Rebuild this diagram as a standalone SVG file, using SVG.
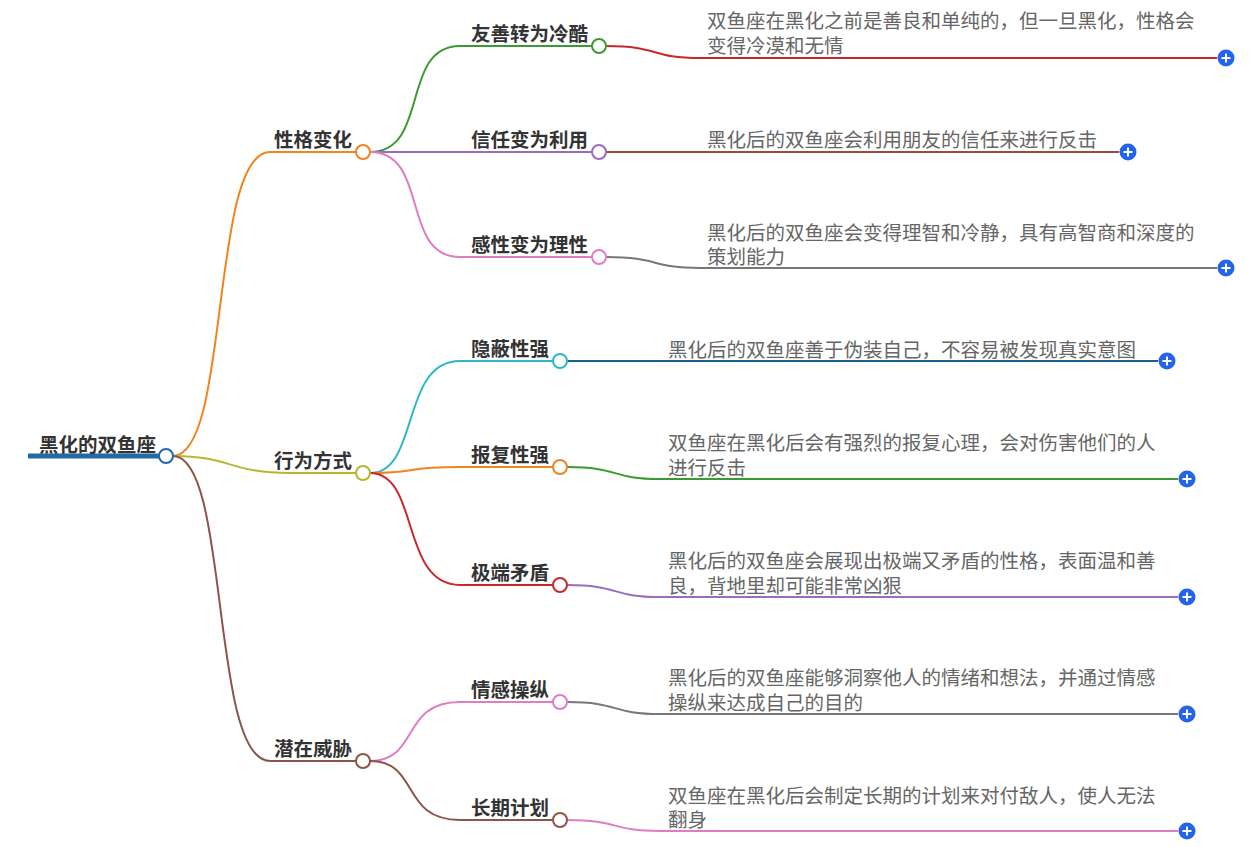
<svg xmlns="http://www.w3.org/2000/svg" width="1255" height="847" viewBox="0 0 1255 847">
<style>
.t{font-family:"Noto Sans CJK SC",sans-serif;font-size:19.5px;font-weight:bold;fill:#333}
.l{font-family:"Noto Sans CJK SC",sans-serif;font-size:19.5px;fill:#666}
path{fill:none;stroke-width:2}
circle.n{fill:#fff;stroke-width:2}
.p{fill:#2463eb}
.pl{stroke:#fff;stroke-width:2}
</style>
<defs><g id="plus"><circle class="p" r="8.5"/><path class="pl" d="M-4.5 0H4.5M0 -4.5V4.5"/></g></defs>
<g id="connectors">
<path d="M28 456H159" stroke="#2369a5" style="stroke-width:5"/>
<path d="M173 456C230 456 210 152 270 152H356" stroke="#f0851f"/>
<path d="M173 456C230 456 230 473 290 473H356" stroke="#b5b82e"/>
<path d="M173 456C230 456 210 761 270 761H356" stroke="#8b5647"/>
<path d="M370 152C430 152 400 46 460 46H592" stroke="#3a9b32"/>
<path d="M370 152H592" stroke="#9a6cc0"/>
<path d="M370 152C430 152 400 257 460 257H592" stroke="#e07cc4"/>
<path d="M370 473C420 473 400 361 460 361H553" stroke="#2bb8c8"/>
<path d="M370 473C420 473 400 467 460 467H553" stroke="#f0851f"/>
<path d="M370 473C420 473 400 585 460 585H553" stroke="#c8282a"/>
<path d="M370 761C420 761 400 702 460 702H553" stroke="#e07cc4"/>
<path d="M370 761C420 761 400 820 460 820H553" stroke="#8b5647"/>
<path d="M606 46C660 46 650 58 700 58H1217" stroke="#c8282a"/>
<path d="M606 152C660 152 650 152 700 152H1119" stroke="#a04a3a"/>
<path d="M606 257C660 257 650 268 700 268H1217" stroke="#777"/>
<path d="M567 361C620 361 610 361 660 361H1158" stroke="#1f5f8b"/>
<path d="M567 467C620 467 610 479 660 479H1178" stroke="#3a9b32"/>
<path d="M567 585C620 585 610 597 660 597H1178" stroke="#9a6cc0"/>
<path d="M567 702C620 702 610 714 660 714H1178" stroke="#777"/>
<path d="M567 820C620 820 610 831 660 831H1178" stroke="#e07cc4"/>
</g>
<g id="root"><text class="t" x="156" y="452" text-anchor="end">黑化的双鱼座</text><circle class="n" cx="166" cy="456" r="7" stroke="#2369a5"/></g>
<g id="n1"><text class="t" x="352" y="147" text-anchor="end">性格变化</text><circle class="n" cx="363" cy="152" r="7" stroke="#f0851f"/></g>
<g id="n2"><text class="t" x="352" y="468" text-anchor="end">行为方式</text><circle class="n" cx="363" cy="473" r="7" stroke="#b5b82e"/></g>
<g id="n3"><text class="t" x="352" y="756" text-anchor="end">潜在威胁</text><circle class="n" cx="363" cy="761" r="7" stroke="#8b5647"/></g>
<g id="a1"><text class="t" x="588" y="41" text-anchor="end">友善转为冷酷</text><circle class="n" cx="599" cy="46" r="7" stroke="#3a9b32"/></g>
<g id="a2"><text class="t" x="588" y="147" text-anchor="end">信任变为利用</text><circle class="n" cx="599" cy="152" r="7" stroke="#9a6cc0"/></g>
<g id="a3"><text class="t" x="588" y="252" text-anchor="end">感性变为理性</text><circle class="n" cx="599" cy="257" r="7" stroke="#e07cc4"/></g>
<g id="b1"><text class="t" x="549" y="356" text-anchor="end">隐蔽性强</text><circle class="n" cx="560" cy="361" r="7" stroke="#2bb8c8"/></g>
<g id="b2"><text class="t" x="549" y="462" text-anchor="end">报复性强</text><circle class="n" cx="560" cy="467" r="7" stroke="#f0851f"/></g>
<g id="b3"><text class="t" x="549" y="580" text-anchor="end">极端矛盾</text><circle class="n" cx="560" cy="585" r="7" stroke="#c8282a"/></g>
<g id="c1"><text class="t" x="549" y="697" text-anchor="end">情感操纵</text><circle class="n" cx="560" cy="702" r="7" stroke="#e07cc4"/></g>
<g id="c2"><text class="t" x="549" y="815" text-anchor="end">长期计划</text><circle class="n" cx="560" cy="820" r="7" stroke="#8b5647"/></g>
<g id="l1"><text class="l" x="707" y="28">双鱼座在黑化之前是善良和单纯的，但一旦黑化，性格会</text><text class="l" x="707" y="53">变得冷漠和无情</text><use href="#plus" x="1226" y="58"/></g>
<g id="l2"><text class="l" x="707" y="147">黑化后的双鱼座会利用朋友的信任来进行反击</text><use href="#plus" x="1128" y="152"/></g>
<g id="l3"><text class="l" x="707" y="240">黑化后的双鱼座会变得理智和冷静，具有高智商和深度的</text><text class="l" x="707" y="264">策划能力</text><use href="#plus" x="1226" y="268"/></g>
<g id="l4"><text class="l" x="668" y="357">黑化后的双鱼座善于伪装自己，不容易被发现真实意图</text><use href="#plus" x="1167" y="361"/></g>
<g id="l5"><text class="l" x="668" y="450">双鱼座在黑化后会有强烈的报复心理，会对伤害他们的人</text><text class="l" x="668" y="475">进行反击</text><use href="#plus" x="1187" y="479"/></g>
<g id="l6"><text class="l" x="668" y="568">黑化后的双鱼座会展现出极端又矛盾的性格，表面温和善</text><text class="l" x="668" y="593">良，背地里却可能非常凶狠</text><use href="#plus" x="1187" y="597"/></g>
<g id="l7"><text class="l" x="668" y="685">黑化后的双鱼座能够洞察他人的情绪和想法，并通过情感</text><text class="l" x="668" y="710">操纵来达成自己的目的</text><use href="#plus" x="1187" y="714"/></g>
<g id="l8"><text class="l" x="668" y="803">双鱼座在黑化后会制定长期的计划来对付敌人，使人无法</text><text class="l" x="668" y="827">翻身</text><use href="#plus" x="1187" y="831"/></g>
</svg>
